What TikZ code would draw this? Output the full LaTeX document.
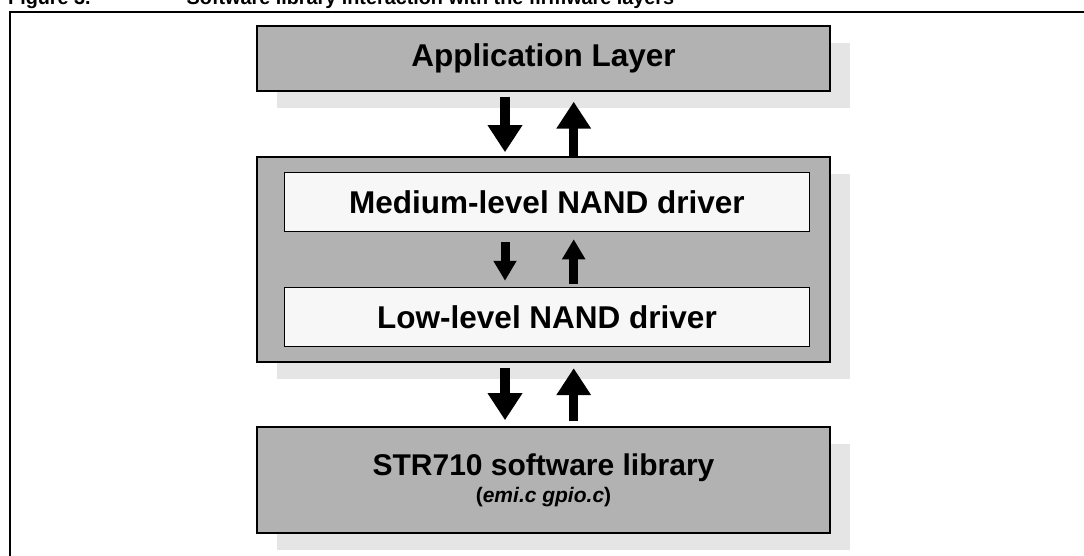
\documentclass[tikz,border=0pt]{standalone}
\usepackage{fontspec}
\setmainfont{Liberation Sans}
\usetikzlibrary{arrows.meta,shadows}

\definecolor{layergray}{gray}{0.70}
\definecolor{shadegray}{gray}{0.90}
\definecolor{innerfill}{gray}{0.97}

\tikzset{
  layer/.style={draw=black, line width=2pt, fill=layergray, minimum width=573pt,
    inner sep=0pt, align=center,
    drop shadow={opacity=1, fill=shadegray, draw=none, shadow xshift=20pt, shadow yshift=-17pt}},
  sublayer/.style={draw=black, line width=1.5pt, fill=innerfill, minimum width=525pt,
    minimum height=59pt, inner sep=0pt},
  bigarrow/.style={line width=9.5pt, -{Triangle[length=27pt,width=33pt]}},
  smallarrow/.style={line width=9pt, -{Triangle[length=20pt,width=22pt]}},
  labeltext/.style={font=\bfseries\fontsize{31.5}{36}\selectfont},
}

\begin{document}
\begin{tikzpicture}[x=1pt, y=-1pt]
  \useasboundingbox (0,0) rectangle (1084,556);
  \clip (0,0) rectangle (1084,556);

  % caption line, partly above the page edge
  \node[anchor=base west, inner sep=0pt, font=\bfseries\fontsize{19.8}{23}\selectfont]
    (caption) at (8,4.5) {Figure 3.\hspace{96pt}Software library interaction with the firmware layers};

  % outer frame
  \draw[line width=2pt] (10.2,600) -- (10.2,12) -- (1100,12);

  % layers
  \node[layer, minimum height=65pt, labeltext] (app) at (543.5,58.2) {Application Layer};
  \node[layer, minimum height=205pt] (mid) at (543.5,259.7) {};
  \node[sublayer, labeltext] (medium) at (547,202) {Medium-level NAND driver};
  \node[sublayer, labeltext] (low) at (547,317) {Low-level NAND driver};
  \node[layer, minimum height=106pt] (lib) at (543.5,480.2)
    {{\fontsize{30}{33}\selectfont\bfseries STR710 software library}\\[4pt]
     {\fontsize{21}{24}\selectfont\bfseries(\textit{emi.c gpio.c})}};

  % arrow columns
  \coordinate (down) at (505,0);
  \coordinate (up) at (573.7,0);

  \draw[bigarrow, shorten <=5pt, shorten >=4pt] (app.south -| down) -- (mid.north -| down);
  \draw[bigarrow, shorten <=0pt, shorten >=10pt] (mid.north -| up) -- (app.south -| up);

  \draw[smallarrow, shorten <=10pt, shorten >=6pt] (medium.south -| down) -- (low.north -| down);
  \draw[smallarrow, shorten <=3pt, shorten >=7pt] (low.north -| up) -- (medium.south -| up);

  \draw[bigarrow, shorten <=5pt, shorten >=6pt] (mid.south -| down) -- (lib.north -| down);
  \draw[bigarrow, shorten <=5pt, shorten >=5pt] (lib.north -| up) -- (mid.south -| up);
\end{tikzpicture}
\end{document}
